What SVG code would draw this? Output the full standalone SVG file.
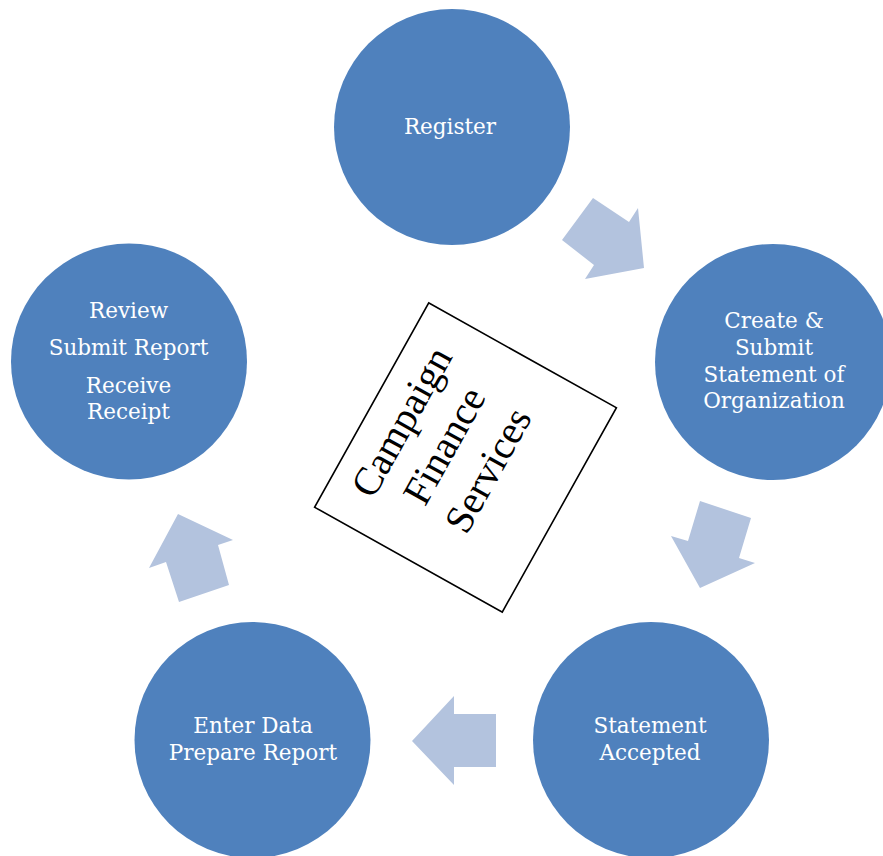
<svg xmlns="http://www.w3.org/2000/svg" width="883" height="856" viewBox="0 0 883 856">
<style>
.node circle{fill:#4F81BD}
.lbl{font-family:"DejaVu Serif","Liberation Serif",serif;font-size:21.5px;fill:#FFFFFF;text-anchor:middle}
.arrow{fill:#B3C3DE}
.ctr{font-family:"Liberation Serif","Times New Roman",serif;font-size:40px;fill:#000000;text-anchor:middle}
</style>
<rect width="883" height="856" fill="#FFFFFF"/>
<g id="connectors">
<polygon class="arrow" points="593,198 629,222 638,208 644,268 585,279 594,265 562,240"/>
<polygon class="arrow" points="700,501 751,518 739,558 755,563 700,588 671,536 688,541"/>
<polygon class="arrow" points="496,714 454,714 454,696 412,741 454,785 454,767 496,767"/>
<polygon class="arrow" points="178,514 233,540 218,545 229,585 179,602 166,562 149,568"/>
</g>
<g id="center">
<g transform="translate(465.5,457.5) rotate(29.2)">
<rect x="-107.5" y="-117" width="215" height="234" fill="#FFFFFF" stroke="#000000" stroke-width="1.6"/>
</g>
<g transform="translate(465.5,457.5) rotate(-60.8)">
<text class="ctr" x="0" y="-60">Campaign</text>
<text class="ctr" x="0" y="-11">Finance</text>
<text class="ctr" x="0" y="39">Services</text>
</g>
</g>
<g id="register" class="node">
<circle cx="452" cy="127" r="118"/>
<text class="lbl" x="450" y="134">Register</text>
</g>
<g id="create" class="node">
<circle cx="773" cy="362" r="118"/>
<text class="lbl" x="774" y="328">Create &amp;</text>
<text class="lbl" x="774" y="355">Submit</text>
<text class="lbl" x="774" y="381.5">Statement of</text>
<text class="lbl" x="774" y="408">Organization</text>
</g>
<g id="accepted" class="node">
<circle cx="651" cy="740" r="118"/>
<text class="lbl" x="650" y="733">Statement</text>
<text class="lbl" x="650" y="760">Accepted</text>
</g>
<g id="enter" class="node">
<circle cx="252.5" cy="740" r="118"/>
<text class="lbl" x="253" y="733">Enter Data</text>
<text class="lbl" x="253" y="760">Prepare Report</text>
</g>
<g id="review" class="node">
<circle cx="129" cy="361.5" r="118"/>
<text class="lbl" x="128.5" y="318">Review</text>
<text class="lbl" x="128.5" y="354.5">Submit Report</text>
<text class="lbl" x="128.5" y="392.5">Receive</text>
<text class="lbl" x="128.5" y="418.5">Receipt</text>
</g>
</svg>
